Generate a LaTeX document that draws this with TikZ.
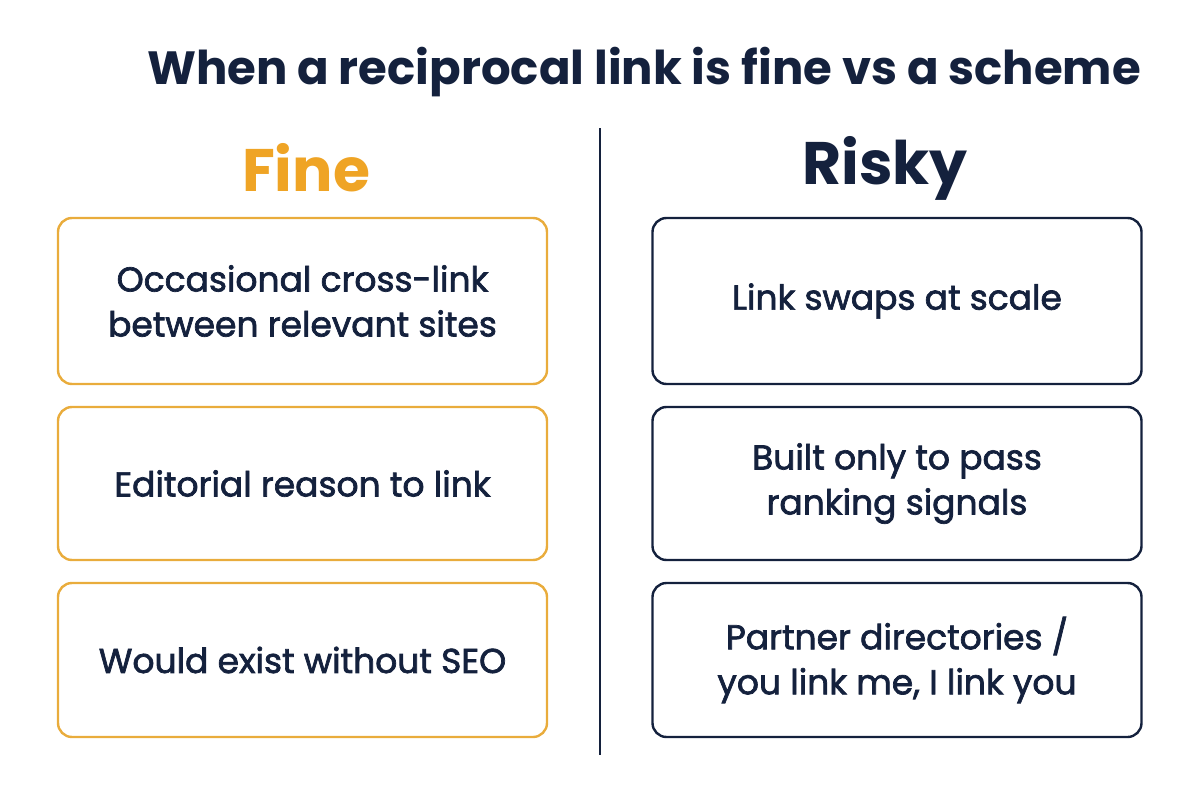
\documentclass[tikz,border=0pt]{standalone}
\usepackage{fontspec}
\setmainfont{Poppins}
\newfontfamily\cardfont{Poppins}[FakeBold=2]
\usetikzlibrary{positioning}

\definecolor{navy}{HTML}{14213D}
\definecolor{gold}{HTML}{EFA425}
\definecolor{goldline}{HTML}{E9AC3C}

\begin{document}
\begin{tikzpicture}[
    x=1pt, y=-1pt,
    % card styles
    card/.style={draw, rounded corners=14pt, line width=2.4pt, minimum width=489pt,
        minimum height=154pt, align=center, text=navy,
        font=\cardfont\fontsize{34.5}{45}\selectfont},
    fine card/.style={card, draw=goldline},
    risky card/.style={card, draw=navy},
    heading/.style={font=\bfseries\fontsize{60}{62}\selectfont},
]
\useasboundingbox (0,0) rectangle (1200,800);

% title
\node[text=navy, font=\bfseries\fontsize{46.6}{48}\selectfont] (title) at (644,72)
    {When a reciprocal link is fine vs a scheme};

% column headings
\node[heading, text=gold] (fine) at (306,168) {Fine};
\node[heading, text=navy] (risky) at (885,168) {Risky};

% divider
\coordinate (divtop) at (600,128);
\coordinate (divbot) at (600,755);
\draw[navy, line width=2pt] (divtop) -- (divbot);

% left column
\node[fine card, minimum height=166pt] (fineA) at (302.5,301) {Occasional cross-link\\between relevant sites};
\node[fine card, minimum height=153pt] (fineB) at (302.5,483.5) {Editorial reason to link};
\node[fine card, minimum height=154pt] (fineC) at (302.5,660) {Would exist without SEO};

% right column
\node[risky card, minimum height=166pt] (riskyA) at (897,301) {Link swaps at scale};
\node[risky card, minimum height=153pt] (riskyB) at (897,483.5) {Built only to pass\\ranking signals};
\node[risky card, minimum height=154pt] (riskyC) at (897,660) {Partner directories /\\you link me, I link you};

\end{tikzpicture}
\end{document}
